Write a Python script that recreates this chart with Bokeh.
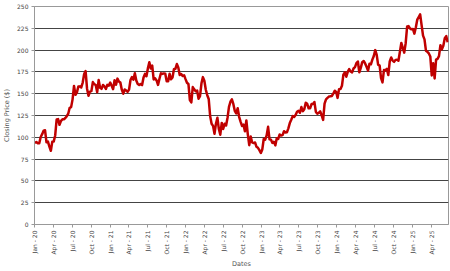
import math
import pandas as pd
from bokeh.plotting import figure
from bokeh.models import ColumnDataSource, FixedTicker, Range1d
from bokeh.embed import file_html
from bokeh.resources import INLINE

# Weekly closing prices (one per Friday)
close_2020 = [93.7, 94.6, 93.3, 93.2, 100.4,
              103.6, 107.6, 108.0, 94.2,
              95.0, 89.3, 84.5, 95.0,
              95.3, 102.1, 120.4, 120.9,
              114.3, 118.8, 120.6, 120.6, 122.1,
              124.2, 127.0, 133.8, 134.6,
              143.5, 158.9, 148.7, 151.5, 158.2,
              158.4, 157.2, 162.8, 172.5,
              176.0, 155.8, 147.6, 152.4,
              152.9, 163.3, 160.9, 160.0, 151.8,
              165.6, 156.8, 155.6, 160.0,
              158.4, 155.4, 160.1, 159.3]
close_2021 = [162.8, 159.2, 155.2, 165.4, 160.3,
              167.3, 163.9, 162.7, 154.6,
              150.0, 154.8, 153.6, 152.3,
              154.7, 165.7, 169.1, 166.0, 173.4,
              165.2, 161.1, 160.0, 161.2,
              159.9, 168.6, 172.7, 170.0,
              179.0, 186.0, 179.0, 182.3, 166.4,
              167.6, 165.2, 160.1, 167.1,
              173.4, 172.7, 173.3, 172.8,
              164.3, 164.2, 172.9, 166.5, 168.6,
              178.0, 178.6, 184.0, 180.1,
              171.4, 172.5, 170.3, 171.1, 166.7]
close_2022 = [162.6, 161.2, 142.6, 140.0,
              157.6, 155.0, 152.9, 153.6,
              144.3, 147.3, 161.9, 169.0,
              164.9, 154.5, 148.3, 144.0, 124.3,
              115.6, 113.1, 104.0, 115.6,
              122.4, 109.7, 103.0, 116.5,
              109.6, 115.5, 113.6, 122.4, 134.9,
              140.8, 143.6, 138.2, 130.4,
              127.5, 133.3, 123.5, 118.0, 113.0,
              114.6, 106.9, 119.3, 103.4,
              91.0, 100.8, 94.1, 93.4,
              94.1, 89.1, 87.9, 85.3, 82.0]
close_2023 = [86.1, 98.1, 97.3, 102.2,
              112.0, 97.6, 97.2, 93.5,
              94.9, 90.7, 98.9, 98.1, 103.3,
              102.1, 102.5, 107.0, 105.5,
              105.7, 110.3, 116.3, 120.1,
              124.3, 123.4, 125.5, 129.3, 130.4,
              128.2, 134.7, 130.0, 132.2,
              139.6, 138.4, 133.2, 133.3,
              138.1, 138.2, 140.4, 129.1, 127.1,
              128.0, 129.8, 125.2, 120.0,
              138.6, 143.6, 145.2, 146.7,
              147.0, 147.4, 150.0, 153.4, 151.9]
close_2024 = [145.2, 155.2, 155.3, 159.1,
              171.8, 174.5, 169.5, 175.0,
              178.2, 175.4, 174.4, 178.9, 180.4,
              185.1, 186.9, 174.6, 179.6,
              186.2, 187.5, 184.7, 180.8, 176.4,
              184.3, 183.7, 189.1, 193.3,
              200.0, 194.5, 183.1, 182.5,
              167.9, 163.0, 177.1, 177.0, 178.5,
              171.4, 187.0, 191.6, 188.0,
              186.5, 188.8, 189.0, 187.8,
              197.9, 208.2, 202.6, 197.1, 207.9,
              227.0, 227.5, 224.9, 223.8]
close_2025 = [224.2, 218.9, 225.9, 234.9, 237.7,
              241.0, 228.7, 216.6, 212.3,
              199.3, 198.0, 196.2, 192.7,
              171.0, 184.9, 167.5, 189.0,
              190.0, 193.1, 205.6, 201.0, 205.0,
              213.6, 216.0, 209.0]

closes = close_2020 + close_2021 + close_2022 + close_2023 + close_2024 + close_2025
dates = pd.date_range(start="2020-01-03", periods=len(closes), freq="W-FRI")

tick_dates = pd.date_range(start="2020-01-01", end="2025-04-01", freq="QS")
tick_labels = [d.strftime("%b - %y") for d in tick_dates]
y_ticks = [0, 25, 50, 75, 100, 125, 150, 175, 200, 225, 250]

src = ColumnDataSource(dict(x=dates, y=closes))

p = figure(width=450, height=271, x_axis_type="datetime",
           output_backend="svg", toolbar_location=None,
           min_border_left=32, min_border_right=2,
           min_border_top=6, min_border_bottom=44)
p.x_range = Range1d(pd.Timestamp("2020-01-01"), pd.Timestamp("2025-06-24"))
p.y_range = Range1d(0, 250)
p.background_fill_color = "white"
p.border_fill_color = "white"
p.outline_line_color = "#999999"

p.line("x", "y", source=src, line_color="#c00000", line_width=2.5,
       line_join="round")

tick_ms = [d.value / 1e6 for d in tick_dates]
p.xaxis.ticker = FixedTicker(ticks=tick_ms)
p.xaxis.major_label_overrides = {t: l for t, l in zip(tick_ms, tick_labels)}
p.xaxis.major_label_orientation = math.pi / 2
p.xaxis.axis_label = "Dates"
p.yaxis.ticker = FixedTicker(ticks=y_ticks)
p.yaxis.axis_label = "Closing Price ($)"

for ax in (p.xaxis[0], p.yaxis[0]):
    ax.axis_line_color = "#999999"
    ax.major_tick_line_color = "#999999"
    ax.minor_tick_line_color = None
    ax.major_tick_out = 3
    ax.major_tick_in = 0
    ax.major_label_text_font = "DejaVu Sans"
    ax.major_label_text_font_size = "6px"
    ax.major_label_text_color = "#444444"
    ax.major_label_standoff = 3
    ax.axis_label_text_font = "DejaVu Sans"
    ax.axis_label_text_font_size = "6.5px"
    ax.axis_label_text_font_style = "normal"
    ax.axis_label_text_color = "#555555"
    ax.axis_label_standoff = 3

p.xgrid.grid_line_color = None
p.ygrid.grid_line_color = "#444444"
p.ygrid.grid_line_width = 1

open("out.html", "w").write(file_html(p, INLINE))
